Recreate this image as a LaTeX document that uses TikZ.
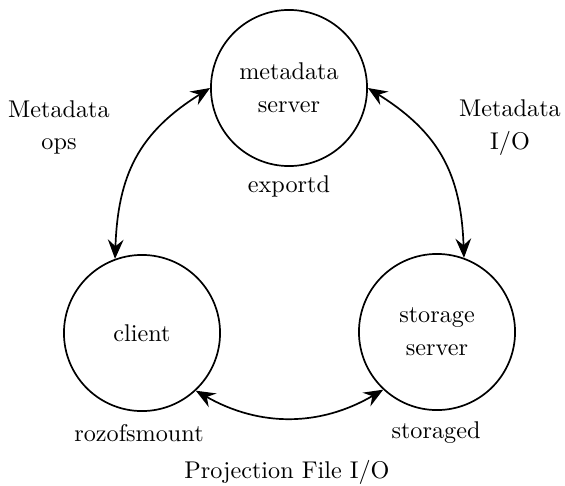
\documentclass[tikz,border=0pt]{standalone}
\usetikzlibrary{arrows.meta}
\begin{document}
\begin{tikzpicture}[x=0.4132pt,y=-0.4132pt,
  circ/.style={draw,circle,line width=0.7pt,minimum size=64.5pt,inner sep=0pt,align=center},
  lbl/.style={align=center,inner sep=0pt},
  base/.style={anchor=base,inner sep=0pt},
  arr/.style={{Stealth[length=8pt,width=6.5pt,inset=2.8pt]}-{Stealth[length=8pt,width=6.5pt,inset=2.8pt]},line width=0.7pt}]
\path[use as bounding box] (0,0) rectangle (565,485);
\node[circ] (md) at (289,88) {metadata\\[1.5pt]server};
\node[circ] (cl) at (142,333) {client};
\node[circ] (st) at (437,332) {storage\\[1.5pt]server};
\node[base] (ex) at (289,192) {exportd};
\node[base] (rz) at (139,441.5) {rozofsmount};
\node[base] (sd) at (436,438) {storaged};
\node[base] (pf) at (287,478) {Projection File I/O};
\node[lbl] (mo) at (59,127.5) {Metadata\\[1.5pt]ops};
\node[lbl] (mi) at (510,127.5) {Metadata\\[1.5pt]I/O};
\draw[arr] (md.180) to[out=212,in=88,looseness=1.1] (cl.110);
\draw[arr] (md.0) to[out=-32,in=92,looseness=1.1] (st.70);
\draw[arr] (cl.-47) to[bend right=30] (st.-133);
\end{tikzpicture}
\end{document}
